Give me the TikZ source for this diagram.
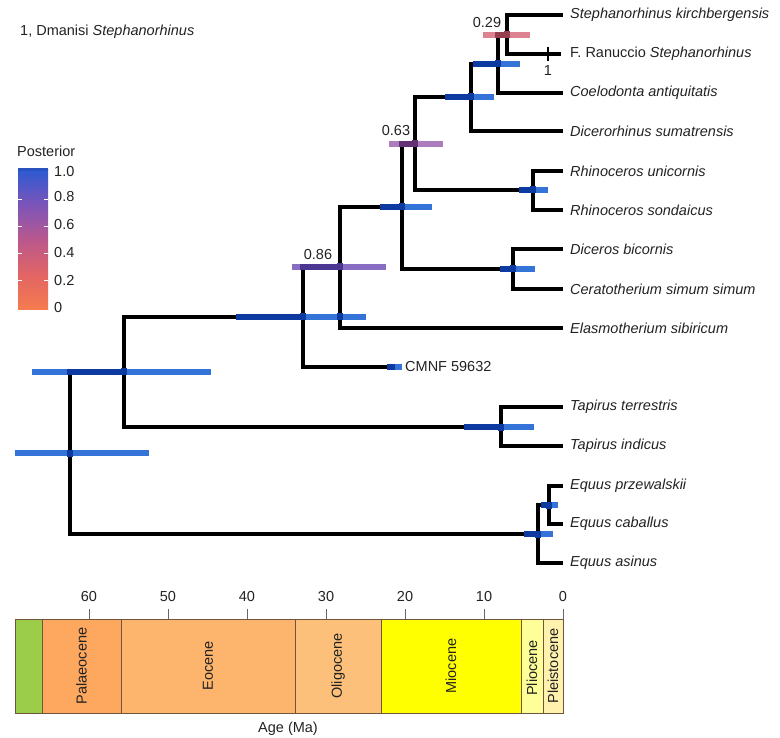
\documentclass[tikz,border=0pt]{standalone}
\usepackage{fontspec}
\setmainfont{Liberation Sans}
\definecolor{txt}{HTML}{222222}
\definecolor{bl}{HTML}{3474D8}
\definecolor{bldk}{HTML}{0C3AA0}
\definecolor{pk}{HTML}{DC8291}
\definecolor{pkdk}{HTML}{96404F}
\definecolor{pu}{HTML}{AC7DBE}
\definecolor{pudk}{HTML}{643273}
\definecolor{pv}{HTML}{876EC3}
\definecolor{pvdk}{HTML}{4B3791}
\definecolor{pz}{RGB}{246,124,78}
\definecolor{pa}{RGB}{226,101,100}
\definecolor{pb}{RGB}{186,88,140}
\definecolor{pc}{RGB}{125,85,185}
\definecolor{pd}{RGB}{45,90,210}
\definecolor{cret}{RGB}{155,205,75}
\definecolor{pal}{HTML}{FDA75F}
\definecolor{eoc}{HTML}{FDB46C}
\definecolor{oli}{HTML}{FDC07A}
\definecolor{mio}{HTML}{FFFF00}
\definecolor{pli}{HTML}{FFFF99}
\definecolor{ple}{HTML}{FFF2AE}
\definecolor{edge}{RGB}{110,85,60}
\pgfdeclareverticalshading{postshade}{100bp}{color(0bp)=(pz); color(25bp)=(pz); color(37.5bp)=(pa); color(50bp)=(pb); color(62.5bp)=(pc); color(75bp)=(pd); color(100bp)=(pd)}
\begin{document}
\begin{tikzpicture}[x=1pt,y=-1pt,
  font=\fontsize{14.5}{17}\selectfont, text=txt,
  treeline/.style={line width=3.4pt, line join=miter},
  tiplab/.style={anchor=west, inner sep=0pt, font=\fontsize{14.5}{17}\selectfont\itshape},
  plainlab/.style={anchor=west, inner sep=0pt},
  numlab/.style={inner sep=0pt},
  epoch/.style={rotate=90, inner sep=0pt},
  alltree/.style={insert path={
    (root) |- (n124) (root) |- (nE)
    (n124) |- (n303) (n124) |- (nT)
    (n303) |- (n086) (n303) |- (t10)
    (n086) |- (n402) (n086) |- (t9)
    (n402) |- (n063) (n402) |- (nD)
    (n063) |- (nSD) (n063) |- (nR)
    (nSD) |- (nSC) (nSD) |- (t4)
    (nSC) |- (nSK) (nSC) |- (t3)
    (nSK) |- (t1) (nSK) |- (t2)
    (nR) |- (t5) (nR) |- (t6)
    (nD) |- (t7) (nD) |- (t8)
    (nT) |- (t11) (nT) |- (t12)
    (nE) |- (nE2) (nE) |- (t15)
    (nE2) |- (t13) (nE2) |- (t14)}}]
\useasboundingbox (0,0) rectangle (780,738);
\newcommand\hpd[5]{%
  \draw[line width=6pt,#1] (#3,#5) -- (#4,#5);
  \begin{scope}\clip (#3,#5-3) rectangle (#4,#5+3);
  \path[draw=#2,line width=6pt] [alltree];\end{scope}}
% tips
\coordinate (t1) at (563,15);
\coordinate (t2) at (561,54);
\coordinate (t3) at (563,93);
\coordinate (t4) at (563,131);
\coordinate (t5) at (563,171);
\coordinate (t6) at (563,210);
\coordinate (t7) at (563,249);
\coordinate (t8) at (563,289);
\coordinate (t9) at (563,328);
\coordinate (t10) at (395,367);
\coordinate (t11) at (563,407);
\coordinate (t12) at (563,446);
\coordinate (t13) at (563,486);
\coordinate (t14) at (563,524);
\coordinate (t15) at (563,563);
% internal nodes (x = age, y = stem)
\coordinate (nSK) at (507,35);
\coordinate (nSC) at (498,64);
\coordinate (nSD) at (471,97);
\coordinate (nR) at (533,190);
\coordinate (n063) at (415,144);
\coordinate (nD) at (513,269);
\coordinate (n402) at (402,207);
\coordinate (n086) at (340,267);
\coordinate (n303) at (303,317);
\coordinate (nT) at (501,427);
\coordinate (n124) at (124,372);
\coordinate (nE2) at (549,505);
\coordinate (nE) at (538,534);
\coordinate (root) at (70,453);
% tree
\path[draw=black,treeline] [alltree];
\draw[line width=2.4pt] (548,47) -- (548,61);
% HPD bars
\hpd{pk}{pkdk}{483}{530}{35}
\hpd{bl}{bldk}{473}{520}{64}
\hpd{bl}{bldk}{445}{494}{97}
\hpd{pu}{pudk}{389}{443}{144}
\hpd{bl}{bldk}{519}{548}{190}
\hpd{bl}{bldk}{380}{432}{207}
\hpd{bl}{bldk}{500}{535}{269}
\hpd{pv}{pvdk}{292}{386}{267}
\hpd{bl}{bldk}{236}{366}{317}
\hpd{bl}{bldk}{387}{402}{367}
\hpd{bl}{bldk}{32}{211}{372}
\hpd{bl}{bldk}{464}{534}{427}
\hpd{bl}{bldk}{541}{558}{505}
\hpd{bl}{bldk}{524}{553}{534}
\hpd{bl}{bldk}{15}{149}{453}
% posterior labels
\node[numlab] (p029) at (487,23) {0.29};
\node[numlab] (p063) at (396,131) {0.63};
\node[numlab] (p086) at (318,255) {0.86};
\node[numlab] (one) at (548,71) {1};
% tip labels
\node[tiplab] (L1) at (570,15) {Stephanorhinus kirchbergensis};
\node[plainlab] (L2) at (570,54) {F. Ranuccio \textit{Stephanorhinus}};
\node[tiplab] (L3) at (570,93) {Coelodonta antiquitatis};
\node[tiplab] (L4) at (570,131) {Dicerorhinus sumatrensis};
\node[tiplab] (L5) at (570,171) {Rhinoceros unicornis};
\node[tiplab] (L6) at (570,210) {Rhinoceros sondaicus};
\node[tiplab] (L7) at (570,249) {Diceros bicornis};
\node[tiplab] (L8) at (570,289) {Ceratotherium simum simum};
\node[tiplab] (L9) at (570,328) {Elasmotherium sibiricum};
\node[plainlab] (L10) at (405,367) {CMNF 59632};
\node[tiplab] (L11) at (570,407) {Tapirus terrestris};
\node[tiplab] (L12) at (570,446) {Tapirus indicus};
\node[tiplab] (L13) at (570,486) {Equus przewalskii};
\node[tiplab] (L14) at (570,524) {Equus caballus};
\node[tiplab] (L15) at (570,563) {Equus asinus};
\node[plainlab] (note) at (20,32) {1, Dmanisi \textit{Stephanorhinus}};
% colour bar
\node[plainlab] (post) at (17,151) {Posterior};
\shade[shading=postshade] (18,170) rectangle (48,310);
\fill[pd!92!black] (18,168) rectangle (48,171);
\foreach \v in {0.2,0.4,0.6,0.8}{
  \draw[white,line width=1pt] (18,308-136*\v) -- (22,308-136*\v);
  \draw[white,line width=1pt] (44,308-136*\v) -- (48,308-136*\v);}
\node[plainlab] (c10) at (54,172) {1.0};
\node[plainlab] (c08) at (54,197) {0.8};
\node[plainlab] (c06) at (54,225) {0.6};
\node[plainlab] (c04) at (54,253) {0.4};
\node[plainlab] (c02) at (54,281) {0.2};
\node[plainlab] (c00) at (54,308) {0};
% time scale
\begin{scope}[draw=edge,line width=0.9pt]
\filldraw[fill=cret] (15,619) rectangle (42,713);
\filldraw[fill=pal] (42,619) rectangle (121,713);
\filldraw[fill=eoc] (121,619) rectangle (295,713);
\filldraw[fill=oli] (295,619) rectangle (381,713);
\filldraw[fill=mio] (381,619) rectangle (521,713);
\filldraw[fill=pli] (521,619) rectangle (543,713);
\filldraw[fill=ple] (543,619) rectangle (563,713);
\end{scope}
\node[epoch] (e1) at (81.5,666) {Palaeocene};
\node[epoch] (e2) at (208,666) {Eocene};
\node[epoch] (e3) at (338,666) {Oligocene};
\node[epoch] (e4) at (451,666) {Miocene};
\node[epoch] (e5) at (532,668) {Pliocene};
\node[epoch] (e6) at (553,666) {Pleistocene};
\foreach \t in {0,10,...,60}{
  \draw[gray!80!black,line width=0.9pt] (563-7.9*\t,609) -- (563-7.9*\t,619);
  \node[numlab] at (563-7.9*\t,597) {\t};}
\node[numlab] (age) at (288,729) {Age (Ma)};
\end{tikzpicture}
\end{document}
